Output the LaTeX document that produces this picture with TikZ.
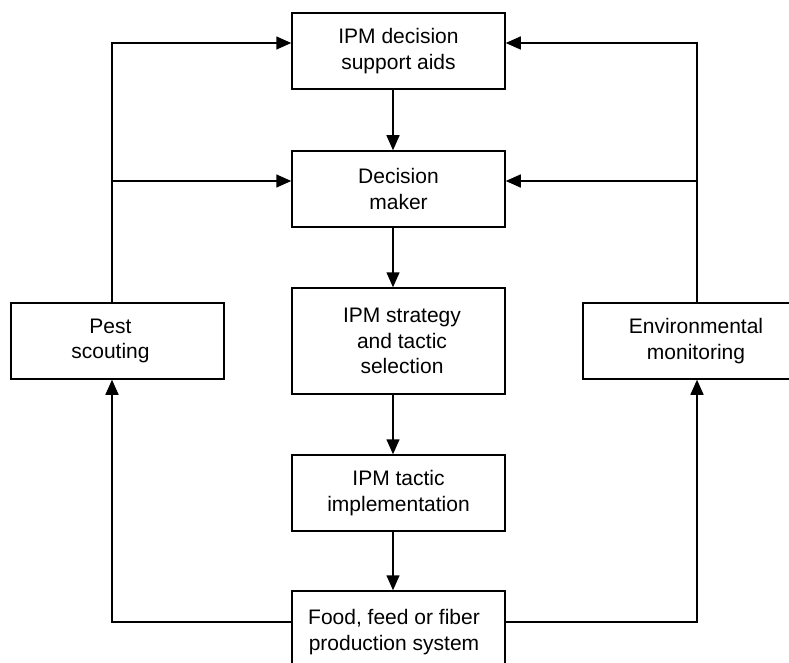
\documentclass[tikz,border=0pt]{standalone}
\usepackage{fontspec}
\setmainfont{Liberation Sans}
\usetikzlibrary{arrows.meta}

\tikzset{
  boxtext/.style={align=center, font=\fontsize{21}{25.5}\selectfont},
  box/.style={draw, line width=1.5pt, minimum width=213pt, minimum height=76pt,
    inner sep=0pt, boxtext},
  arr/.style={line width=1.5pt, -{Triangle[length=15pt,width=13pt]}},
}

\begin{document}
\begin{tikzpicture}[x=1pt, y=-1pt]
  \clip (0,0) rectangle (789,663);

  % central column
  \node[box] (aids) at (398.5,51) {IPM decision\\support aids};
  \node[box] (maker) at (398.5,189) {Decision\\maker};
  \node[box, minimum height=106pt,
        label={[boxtext, name=strategytext, xshift=3.5pt]center:IPM strategy\\and tactic\\selection}]
    (strategy) at (398.5,341) {};
  \node[box] (impl) at (398.5,493) {IPM tactic\\implementation};
  \node[box, minimum height=82pt,
        label={[boxtext, name=foodtext, xshift=-4.5pt]center:Food, feed or fiber\\production system}]
    (food) at (398.5,632) {};

  % monitoring boxes on both sides
  \node[box, label={[boxtext, name=pesttext, xshift=-7pt]center:Pest\\scouting}]
    (pest) at (117.5,341) {};
  \node[box, minimum width=226pt] (env) at (696,341)
    {Environmental\\monitoring};

  % corner points of the feedback loops
  \coordinate (tl) at (112,43);
  \coordinate (ml) at (112,181);
  \coordinate (tr) at (697,43);
  \coordinate (mr) at (697,181);
  \coordinate (bl) at (112,622);
  \coordinate (br) at (697,622);
  \coordinate (axis) at (393,0);

  % main flow
  \draw[arr] (aids.south -| axis) -- (maker.north -| axis);
  \draw[arr] (maker.south -| axis) -- (strategy.north -| axis);
  \draw[arr] (strategy.south -| axis) -- (impl.north -| axis);
  \draw[arr] (impl.south -| axis) -- (food.north -| axis);

  % scouting and monitoring feed the decision level
  \draw[arr] (pest.north -| tl) -- (tl) -- (aids.west |- tl);
  \draw[arr] (ml) -- (maker.west |- ml);
  \draw[arr] (env.north -| tr) -- (tr) -- (aids.east |- tr);
  \draw[arr] (mr) -- (maker.east |- mr);

  % production system observed by scouting and monitoring
  \draw[arr] (food.west |- bl) -- (bl) -- (pest.south -| bl);
  \draw[arr] (food.east |- br) -- (br) -- (env.south -| br);
\end{tikzpicture}
\end{document}
